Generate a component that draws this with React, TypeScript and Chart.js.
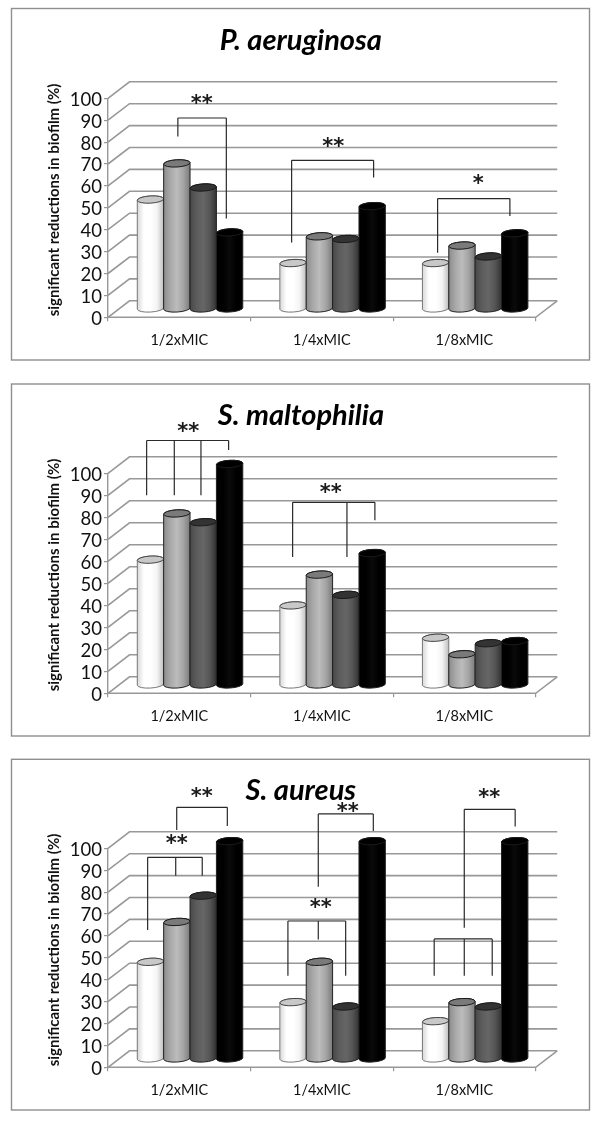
import React, { useEffect, useRef } from "react";
import { Chart, registerables } from "chart.js";

Chart.register(...registerables);

const FONT = "Lato, 'Open Sans', sans-serif";
const categories = ["1/2xMIC", "1/4xMIC", "1/8xMIC"];
const yTicksStep = 10;
const yAxisTitle = "significant reductions in biofilm (%)";

// values per series: [1/2xMIC, 1/4xMIC, 1/8xMIC]
const pa1 = [50, 21, 21];
const pa2 = [66.5, 33.2, 29];
const pa3 = [55.5, 32, 24];
const pa4 = [35, 47, 34.6];

const sm1 = [57, 36.2, 21.5];
const sm2 = [78, 50.2, 14];
const sm3 = [74, 41, 19];
const sm4 = [100.5, 60, 20];

const sa1 = [44.4, 26, 17.3];
const sa2 = [62.6, 44.4, 26];
const sa3 = [74.6, 24, 24];
const sa4 = [99.5, 99.5, 99.5];

// brackets in scale units: [topValue, [[xCategory, legEndValue], ...]]
type Bracket = { top: number; legs: number[][] };
type Mark = { x: number; v: number; text: string };

const paBrackets: Bracket[] = [
  { top: 91, legs: [[-0.01, 82.6], [0.33, 45.1]] },
  { top: 71.7, legs: [[0.788, 34.1], [1.363, 63.8]] },
  { top: 54.2, legs: [[1.812, 29.5], [2.319, 46.3]] },
];
const paMarks: Mark[] = [
  { x: 0.157, v: 98.3, text: "**" },
  { x: 1.08, v: 78.9, text: "**" },
  { x: 2.097, v: 62.1, text: "*" },
];

const smBrackets: Bracket[] = [
  { top: 114.9, legs: [[-0.229, 90], [-0.035, 90], [0.152, 90], [0.346, 110.6]] },
  { top: 86.8, legs: [[0.795, 61.9], [1.176, 61.9], [1.372, 78.7]] },
];
const smMarks: Mark[] = [
  { x: 0.063, v: 119.8, text: "**" },
  { x: 1.062, v: 92, text: "**" },
];

const saBrackets: Bracket[] = [
  { top: 118.7, legs: [[-0.018, 108.4], [0.337, 110.2]] },
  { top: 95.9, legs: [[-0.222, 62.7], [-0.025, 87.5], [0.161, 87.5]] },
  { top: 66.8, legs: [[0.762, 41.8], [0.975, 58.4], [1.167, 41.8]] },
  { top: 115.7, legs: [[0.975, 82.5], [1.361, 107.9]] },
  { top: 58.6, legs: [[1.788, 41.8], [1.999, 41.8], [2.195, 41.8]] },
  { top: 117.8, legs: [[1.999, 63.7], [2.356, 109.9]] },
];
const saMarks: Mark[] = [
  { x: 0.157, v: 124.7, text: "**" },
  { x: -0.018, v: 103, text: "**" },
  { x: 0.992, v: 73.8, text: "**" },
  { x: 1.181, v: 117.5, text: "**" },
  { x: 2.174, v: 124, text: "**" },
];

const seriesColors = ["#ffffff", "#a6a6a6", "#555555", "#000000"];
const capColors = ["#c8c8c8", "#7a7a7a", "#333333", "#000000"];
const shades = [
  ["#d8d8d8", "#ffffff", "#ffffff", "#f4f4f4", "#bdbdbd"],
  ["#8c8c8c", "#a8a8a8", "#bcbcbc", "#a4a4a4", "#7a7a7a"],
  ["#484848", "#5c5c5c", "#666666", "#555555", "#333333"],
  ["#000000", "#000000", "#0a0a0a", "#000000", "#000000"],
];

const DEPTH_X = 21.5;
const DEPTH_Y = -16.5;
const GRID = "#989898";

function wall(chart: any) {
  const { ctx, chartArea: a, scales } = chart;
  const y = scales.y;
  ctx.save();
  ctx.strokeStyle = GRID;
  ctx.lineWidth = 1.6;
  for (const t of y.ticks) {
    const p = y.getPixelForValue(t.value);
    ctx.beginPath();
    ctx.moveTo(a.left, p);
    ctx.lineTo(a.left + DEPTH_X, p + DEPTH_Y);
    ctx.lineTo(a.right + DEPTH_X, p + DEPTH_Y);
    ctx.stroke();
  }
  ctx.beginPath();
  ctx.moveTo(a.left, a.bottom);
  ctx.lineTo(a.right, a.bottom);
  ctx.lineTo(a.right + DEPTH_X, a.bottom + DEPTH_Y);
  ctx.stroke();
  ctx.restore();
}

function cylinder(ctx: any, el: any, i: number) {
  const rx = el.width / 2;
  const ry = 3.6;
  const tilt = -0.06;
  const cx = el.x + DEPTH_X / 2;
  const top = el.y + DEPTH_Y / 2;
  const base = el.base + DEPTH_Y / 2;
  const dyEdge = Math.sin(tilt) * rx;
  const g = ctx.createLinearGradient(cx - rx, 0, cx + rx, 0);
  shades[i].forEach((c, k) => g.addColorStop(k / (shades[i].length - 1), c));
  ctx.beginPath();
  ctx.moveTo(cx - rx, top - dyEdge);
  ctx.lineTo(cx - rx, base - dyEdge);
  ctx.ellipse(cx, base, rx, ry, tilt, Math.PI, 0, true);
  ctx.lineTo(cx + rx, top + dyEdge);
  ctx.ellipse(cx, top, rx, ry, tilt, 0, Math.PI, true);
  ctx.closePath();
  ctx.fillStyle = g;
  ctx.fill();
  ctx.lineWidth = 1;
  ctx.strokeStyle = i === 0 ? "#777777" : "#222222";
  ctx.stroke();
  ctx.beginPath();
  ctx.ellipse(cx, top, rx, ry, tilt, 0, Math.PI * 2);
  ctx.fillStyle = capColors[i];
  ctx.fill();
  ctx.strokeStyle = i === 0 ? "#444444" : "#1a1a1a";
  ctx.stroke();
}

const decor = {
  id: "decor",
  beforeDraw(chart: any) {
    const { ctx, width } = chart;
    ctx.save();
    ctx.strokeStyle = "#8f8f8f";
    ctx.lineWidth = 1.4;
    ctx.strokeRect(11.5, chart.options.plugins.decor.boxTop, width - 22, chart.options.plugins.decor.boxHeight);
    ctx.restore();
  },
  beforeDatasetsDraw(chart: any) {
    wall(chart);
  },
  beforeDatasetDraw() {
    return false;
  },
  afterDatasetsDraw(chart: any) {
    const { ctx, scales } = chart;
    const { x, y } = scales;
    const opts = chart.options.plugins.decor;
    ctx.save();
    chart.data.datasets.forEach((_: any, i: number) => {
      chart.getDatasetMeta(i).data.forEach((el: any) => cylinder(ctx, el, i));
    });
    ctx.strokeStyle = "#2a2a2a";
    ctx.lineWidth = 1.2;
    for (const b of opts.brackets as Bracket[]) {
      const t = y.getPixelForValue(b.top);
      const xs = b.legs.map((l) => x.getPixelForValue(l[0]));
      ctx.beginPath();
      ctx.moveTo(Math.min(...xs), t);
      ctx.lineTo(Math.max(...xs), t);
      b.legs.forEach((l, k) => {
        ctx.moveTo(xs[k], t);
        ctx.lineTo(xs[k], y.getPixelForValue(l[1]));
      });
      ctx.stroke();
    }
    ctx.fillStyle = "#1a1a1a";
    ctx.textAlign = "center";
    ctx.textBaseline = "middle";
    ctx.font = `bold 21px 'DejaVu Sans', ${FONT}`;
    for (const m of opts.marks as Mark[]) {
      ctx.fillText(m.text, x.getPixelForValue(m.x), y.getPixelForValue(m.v) + 3);
    }
    ctx.translate(54.5, 200);
    ctx.rotate(-Math.PI / 2);
    ctx.font = `bold 15px ${FONT}`;
    ctx.fillStyle = "#111111";
    ctx.fillText(yAxisTitle, 0, 0);
    ctx.restore();
  },
};

type PanelProps = {
  title: string;
  top: number;
  height: number;
  boxTop: number;
  boxHeight: number;
  plotBottom: number;
  series: number[][];
  brackets: Bracket[];
  marks: Mark[];
};

function Panel(p: PanelProps) {
  const ref = useRef<HTMLCanvasElement | null>(null);
  useEffect(() => {
    const chart = new Chart(ref.current as HTMLCanvasElement, {
      type: "bar",
      data: {
        labels: categories,
        datasets: p.series.map((data, i) => ({
          label: `Series ${i + 1}`,
          data,
          backgroundColor: seriesColors[i],
          categoryPercentage: 0.74,
          barPercentage: 1,
        })),
      },
      plugins: [decor],
      options: {
        responsive: false,
        animation: false,
        layout: { padding: { left: 66, right: 64.3, top: 0, bottom: 0 } },
        plugins: {
          legend: { display: false },
          tooltip: { enabled: false },
          title: {
            display: true,
            text: p.title,
            color: "#000000",
            font: { family: FONT, size: 29, weight: "bold", style: "italic", lineHeight: 1.2 },
            padding: { top: 23.5, bottom: 98.3 - 23.5 - 34.8 },
          },
          decor: { brackets: p.brackets, marks: p.marks, boxTop: p.boxTop, boxHeight: p.boxHeight },
        } as any,
        scales: {
          x: {
            afterFit: (s: any) => {
              s.height = p.height - p.plotBottom;
            },
            grid: { display: true, drawOnChartArea: false, drawTicks: true, tickLength: 4, color: GRID, lineWidth: 1.2 },
            border: { display: false },
            ticks: { color: "#111111", font: { family: FONT, size: 14.5 }, padding: 10, maxRotation: 0 },
          },
          y: {
            min: 0,
            max: 100,
            afterFit: (s: any) => {
              s.width = 42;
            },
            grid: { display: true, drawOnChartArea: false, drawTicks: true, tickLength: 4, color: GRID, lineWidth: 1.2 },
            border: { display: true, color: GRID, width: 1.4 },
            ticks: {
              stepSize: yTicksStep,
              autoSkip: false,
              color: "#111111",
              font: { family: FONT, size: 18.5 },
              padding: 2,
              labelOffset: 1.5,
            },
          },
        },
      } as any,
    });
    return () => chart.destroy();
  }, []);
  return (
    <canvas
      ref={ref}
      width={600}
      height={p.height}
      style={{ position: "absolute", left: 0, top: p.top, width: 600, height: p.height, display: "block" }}
    />
  );
}

export default function App() {
  return (
    <div style={{ position: "absolute", left: 0, top: 0, width: 600, height: 1121, background: "#ffffff", overflow: "hidden" }}>
      <Panel title="P. aeruginosa" top={0} height={370} boxTop={8.5} boxHeight={351.5} plotBottom={317.3} series={[pa1, pa2, pa3, pa4]} brackets={paBrackets} marks={paMarks} />
      <Panel title="S. maltophilia" top={375} height={370} boxTop={9} boxHeight={352} plotBottom={318.3} series={[sm1, sm2, sm3, sm4]} brackets={smBrackets} marks={smMarks} />
      <Panel title="S. aureus" top={750} height={371} boxTop={9.3} boxHeight={350.7} plotBottom={317.3} series={[sa1, sa2, sa3, sa4]} brackets={saBrackets} marks={saMarks} />
    </div>
  );
}
